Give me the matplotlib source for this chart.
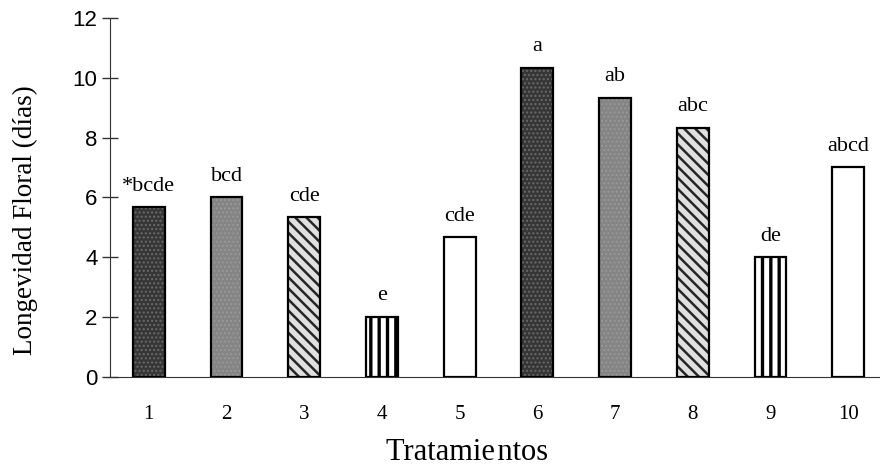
import matplotlib
matplotlib.use('Agg')
import matplotlib.pyplot as plt
import numpy as np

SERIF = ['Liberation Serif', 'DejaVu Serif']
SANS = ['Liberation Sans', 'DejaVu Sans']

# data
tratamientos = ['1', '2', '3', '4', '5', '6', '7', '8', '9', '10']
longevidad = [5.67, 6.0, 5.33, 2.0, 4.67, 10.33, 9.33, 8.33, 4.0, 7.0]
letras = ['*bcde', 'bcd', 'cde', 'e', 'cde', 'a', 'ab', 'abc', 'de', 'abcd']

# fill style per treatment group (repeats for 1-5 and 6-10)
estilos = [
    dict(facecolor='#363636', hatch='....', hatchcolor='#6a6a6a', hlw=1.0),
    dict(facecolor='#858585', hatch='....', hatchcolor='#9a9a9a', hlw=0.8),
    dict(facecolor='#e0e0e0', hatch='\\\\\\', hatchcolor='#262626', hlw=1.8),
    dict(facecolor='white', hatch='||', hatchcolor='black', hlw=2.4),
    dict(facecolor='white', hatch=None, hatchcolor='black', hlw=1.0),
]

BAR_WIDTH = 0.41

fig = plt.figure(figsize=(8.8, 4.7), dpi=100)
ax = fig.add_axes([0.125, 0.198, 0.883, 0.764])

x = np.arange(1, len(tratamientos) + 1)

for i, (xi, yi) in enumerate(zip(x, longevidad)):
    st = estilos[i % 5]
    plt.rcParams['hatch.linewidth'] = st['hlw']
    # fill + hatch, edge colour used as hatch colour
    ax.bar(xi, yi, BAR_WIDTH, color=st['facecolor'], hatch=st['hatch'],
           edgecolor=st['hatchcolor'], linewidth=0, zorder=2)
    # black outline on top
    ax.bar(xi, yi, BAR_WIDTH, fill=False, edgecolor='black', linewidth=1.6, zorder=3)
    ax.annotate(letras[i], (xi, yi), xytext=(0, 12), textcoords='offset points',
                ha='center', va='baseline', fontsize=16, family=SERIF)

ax.set_xlim(0.5, 10.5)
ax.set_ylim(0, 12)
ax.set_yticks(np.arange(0, 13, 2))
ax.set_xticks(x)
ax.set_xticklabels(tratamientos, family=SERIF, fontsize=15)
for lab in ax.get_yticklabels():
    lab.set_family(SANS)
    lab.set_fontsize(16)

ax.tick_params(axis='x', length=0, pad=20)
ax.tick_params(axis='y', direction='inout', length=12, width=1, color='#333333', pad=3)

ax.spines['top'].set_visible(False)
ax.spines['right'].set_visible(False)
ax.spines['left'].set_color('#333333')
ax.spines['bottom'].set_color('#333333')

fig.text(25 / 880, 1 - 220 / 470, 'Longevidad Floral (días)', rotation=90,
         ha='center', va='center', fontsize=19.5, family=SERIF)
fig.text(467 / 880, 1 - 453 / 470, 'Tratamie\u200antos',
         ha='center', va='center', fontsize=22, family=SERIF)

fig.savefig('out.png', dpi=100)
